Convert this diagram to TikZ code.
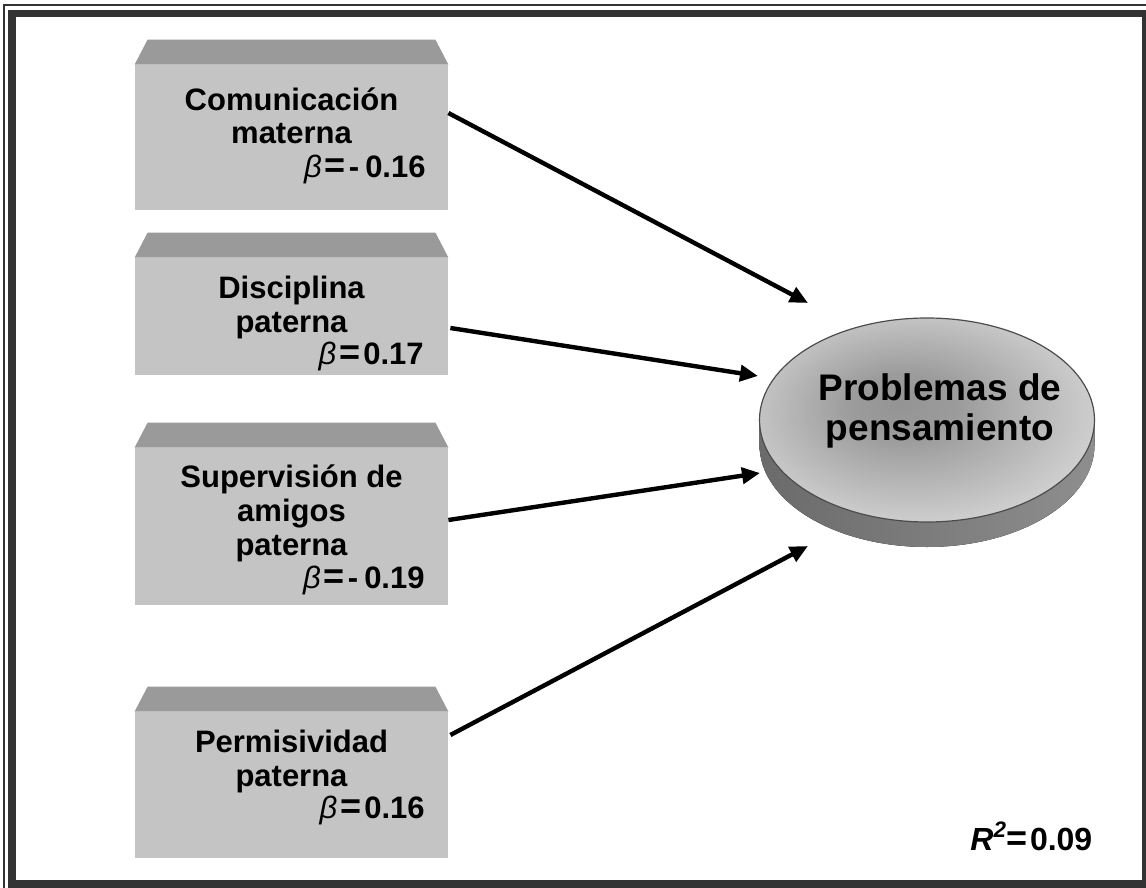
\documentclass[tikz,border=0pt]{standalone}
\usepackage{fontspec}
\setmainfont{Liberation Sans}
\usetikzlibrary{arrows.meta,shapes.geometric}

\definecolor{framegray}{HTML}{333333}
\definecolor{facegray}{HTML}{C4C4C4}
\definecolor{topgray}{HTML}{9A9A9A}
\definecolor{sidegray}{HTML}{8E8E8E}

\pgfdeclareradialshading{topshade}{\pgfpoint{-4bp}{4bp}}{color(0bp)=(black!42); color(8bp)=(black!39); color(34bp)=(black!12); color(50bp)=(black!10)}

\newcommand{\bigeq}{{\fontsize{18}{17}\selectfont=}}
\newcommand{\bet}{{\mdseries\itshape β}\kern1.5pt\bigeq\kern1.5pt}

\tikzset{
  face/.style={fill=facegray, minimum width=156.5pt, inner sep=0pt},
  lbl/.style={font=\bfseries\fontsize{15.5}{17}\selectfont, align=center, inner sep=0pt, anchor=base},
  coef/.style={font=\bfseries\fontsize{15.5}{17}\selectfont, inner sep=0pt, anchor=base east},
  link/.style={-{Triangle[length=9pt,width=8pt]}, line width=2.2pt}
}

\begin{document}
\begin{tikzpicture}[x=0.5pt,y=-0.5pt]
\useasboundingbox (0,0) rectangle (1146,888);
% frame
\fill[framegray] (8,10) rectangle (1146,888);
\fill[white] (16,17) rectangle (1142,880);
\draw[framegray, line width=1pt] (4,888) -- (4,5.5) -- (1146,5.5);

% boxes
\node[face, minimum height=72.5pt] (com) at (291.5,137.5) {};
\node[face, minimum height=58.5pt] (dis) at (291.5,316.5) {};
\node[face, minimum height=78.5pt] (sup) at (291.5,526.5) {};
\node[face, minimum height=73pt] (per) at (291.5,785) {};
\foreach \b in {com,dis,sup,per}
  \fill[topgray] (\b.north west) -- ++(13,-25) -- ([shift={(-13,-25)}]\b.north east) -- (\b.north east) -- cycle;

\node[lbl] (comtxt) at (291.5,144) {Comunicación\\materna};
\node[coef] (combeta) at (426,177) {\bet-\kern3pt0.16};
\node[lbl] (distxt) at (291.5,332) {Disciplina\\paterna};
\node[coef] (disbeta) at (424,364) {\bet0.17};
\node[lbl] (suptxt) at (291.5,555) {Supervisión de\\amigos\\paterna};
\node[coef] (supbeta) at (425,588) {\bet-\kern3pt0.19};
\node[lbl] (pertxt) at (291.5,786) {Permisividad\\paterna};
\node[coef] (perbeta) at (425,818) {\bet0.16};

% outcome
\coordinate (ppc) at (927,420);
\fill[left color=sidegray!75!black, right color=sidegray] ([xshift=-83.75pt]ppc) -- ++(0,25)
  arc[start angle=180, end angle=360, x radius=83.75pt, y radius=51pt] -- ++(0,-25) -- cycle;
\node[ellipse, minimum width=167.5pt, minimum height=102pt, inner sep=0pt,
  draw=black!70, line width=0.6pt, shading=topshade] (pp) at (ppc) {};
\node[font=\bfseries\fontsize{18.5}{20}\selectfont, align=center, inner sep=0pt, anchor=base] (pptxt) at (940,440) {Problemas de\\pensamiento};

% paths
\coordinate (t1) at (808,303);
\coordinate (t2) at (758,376);
\coordinate (t3) at (760,473);
\coordinate (t4) at (808,546);
\draw[link] ([yshift=12.25pt]com.east) -- (t1);
\draw[link] ([yshift=-5.75pt,xshift=1pt]dis.east) -- (t2);
\draw[link] ([yshift=3.25pt]sup.east) -- (t3);
\draw[link] ([yshift=25pt,xshift=1pt]per.east) -- (t4);

\node[font=\bfseries\fontsize{16}{18}\selectfont, inner sep=0pt, anchor=base west] (rsq) at (970,850)
  {\textit{R}\textsuperscript{\textit{2}}\bigeq\kern1pt0.09};
\end{tikzpicture}
\end{document}
